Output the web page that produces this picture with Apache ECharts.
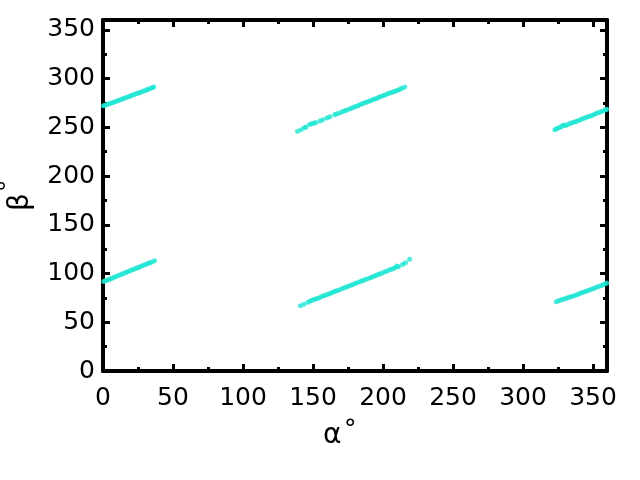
<!DOCTYPE html>
<html><head><meta charset="utf-8">
<script src="https://cdn.jsdelivr.net/npm/echarts@6/dist/echarts.min.js"></script>
<style>html,body{margin:0;padding:0;background:#fff}#c{width:640px;height:480px}</style>
</head><body><div id="c"></div>
<script>
const xTicks = [0, 50, 100, 150, 200, 250, 300, 350];
const yTicks = [0, 50, 100, 150, 200, 250, 300, 350];
const xTitle = 'α';
const yTitle = 'β';
const degree = '°';

const lowerLeft = [[0.5,91.8],[1.5,92.5],[2.8,93.0],[4.0,93.6],[5.2,94.5],[6.5,95.1],[8.0,96.2],[9.3,96.8],[11.0,97.9],[12.6,98.7],[14.0,99.8],[15.5,100.5],[17.0,101.6],[18.4,102.2],[19.8,103.1],[21.0,103.9],[22.5,104.6],[24.0,105.6],[25.3,106.2],[26.8,107.1],[28.0,107.9],[29.5,108.6],[31.0,109.5],[32.3,110.4],[33.5,111.0],[35.0,111.8],[36.8,113.0]];
const upperLeft = [[0.3,272.0],[1.2,272.4],[2.5,273.0],[3.8,273.8],[5.0,274.3],[6.4,275.1],[7.8,275.6],[9.0,276.5],[10.5,277.2],[12.0,278.0],[13.3,278.8],[14.7,279.4],[16.0,280.3],[17.5,281.0],[19.0,281.6],[20.2,282.5],[21.6,283.0],[23.0,284.0],[24.4,284.5],[25.8,285.4],[27.0,286.0],[28.5,286.9],[30.0,287.5],[31.4,288.6],[32.6,288.9],[34.0,289.9],[35.5,290.8],[36.2,291.2]];
const upperMid = [[139.0,246.0],[141.5,247.5],[143.8,249.5],[145.0,250.2],[147.5,252.8],[149.0,253.5],[150.5,254.0],[152.0,254.8],[155.0,256.5],[157.0,257.8],[160.0,259.5],[162.0,260.8],[165.5,262.8],[167.0,263.8],[169.0,264.6],[171.0,266.0],[172.5,266.8],[174.0,267.5],[176.0,268.8],[177.5,269.5],[179.0,270.5],[180.5,271.3],[182.0,272.1],[183.5,273.0],[185.0,274.0],[186.5,274.8],[188.0,275.6],[189.5,276.5],[191.0,277.3],[192.5,278.2],[194.0,279.0],[195.5,279.6],[197.0,280.8],[198.5,281.5],[200.0,282.3],[201.5,283.2],[203.0,284.0],[204.5,284.9],[206.0,285.7],[207.5,286.5],[209.0,287.3],[210.5,288.0],[212.0,289.0],[213.5,289.9],[215.5,291.4]];
const lowerMid = [[141.0,66.8],[143.5,68.5],[146.5,70.5],[148.0,71.8],[149.5,72.5],[151.0,73.5],[152.5,74.2],[154.0,75.0],[155.5,75.8],[157.0,76.8],[158.5,77.5],[160.0,78.5],[161.5,79.2],[163.0,80.0],[164.5,81.0],[166.0,81.8],[167.5,82.6],[169.0,83.3],[171.0,84.5],[172.5,85.3],[174.0,86.3],[175.5,87.0],[177.0,88.0],[178.5,88.8],[180.0,89.7],[181.5,90.5],[183.5,91.5],[185.0,92.5],[186.5,93.3],[188.0,94.0],[190.0,95.2],[191.5,96.0],[193.0,97.0],[194.5,97.8],[196.0,98.6],[197.5,99.5],[199.0,100.3],[201.0,101.6],[202.5,102.4],[204.5,103.5],[206.0,104.4],[207.5,105.2],[209.0,106.3],[210.0,107.6],[211.0,107.0],[214.0,109.3],[216.0,111.0],[219.0,114.5]];
const upperRight = [[322.8,247.5],[324.0,248.5],[325.5,249.6],[327.0,250.2],[328.0,251.5],[329.5,252.3],[330.5,251.8],[332.0,252.8],[333.5,253.8],[335.0,254.6],[336.5,255.3],[338.0,256.0],[339.5,256.8],[341.0,257.6],[342.5,258.6],[344.0,259.4],[345.5,260.2],[347.0,261.0],[348.5,261.8],[350.0,262.6],[351.5,263.5],[353.0,264.5],[354.5,265.2],[356.0,266.2],[357.5,267.0],[359.0,268.0],[359.8,268.5]];
const lowerRight = [[323.8,71.0],[325.5,72.0],[327.0,72.8],[328.5,73.5],[330.0,74.2],[331.5,75.0],[333.0,75.6],[334.5,76.3],[336.0,77.0],[337.5,77.8],[339.0,78.5],[340.5,79.6],[342.0,80.3],[343.5,81.0],[345.0,81.8],[346.5,82.5],[348.0,83.3],[349.5,84.2],[351.0,85.0],[352.5,85.8],[354.0,86.6],[355.5,87.5],[357.0,88.3],[358.5,89.2],[359.8,90.2]];

const pointColor = '#1ee6d2';
const FONT = 'DejaVu Sans';

function axisCommon(showLabels, labelMargin) {
  return {
    min: 0, max: 360, interval: 50,
    axisLine: { show: true, onZero: false, lineStyle: { color: '#000', width: 4 } },
    axisTick: { show: true, inside: true, length: 7, lineStyle: { color: '#000', width: 3 } },
    minorTick: { show: true, splitNumber: 2, length: 4, lineStyle: { color: '#000', width: 3 } },
    splitLine: { show: false },
    axisLabel: { show: showLabels, color: '#000', fontFamily: FONT, fontSize: 25, margin: labelMargin, showMaxLabel: false }
  };
}

const chart = echarts.init(document.getElementById('c'), null, { renderer: 'canvas' });
const segs = [lowerLeft, upperLeft, upperMid, lowerMid, upperRight, lowerRight];
chart.setOption({
  animation: false,
  backgroundColor: '#fff',
  grid: { left: 103, right: 33, top: 20, bottom: 109, containLabel: false },
  xAxis: [
    Object.assign({ type: 'value', position: 'bottom' }, axisCommon(true, 15)),
    Object.assign({ type: 'value', position: 'top' }, axisCommon(false, 8))
  ],
  yAxis: [
    Object.assign({ type: 'value', position: 'left' }, axisCommon(true, 8)),
    Object.assign({ type: 'value', position: 'right' }, axisCommon(false, 8))
  ],
  series: segs.map(d => ({
    type: 'scatter', xAxisIndex: 0, yAxisIndex: 0, data: d,
    symbol: 'circle', symbolSize: 5, itemStyle: { color: pointColor }, silent: true
  })),
  graphic: [
    { type: 'text', left: 323, top: 422, style: { text: xTitle, font: '28px "DejaVu Sans"', fill: '#000' } },
    { type: 'text', left: 344, top: 418, style: { text: degree, font: '25px "DejaVu Sans"', fill: '#000' } },
    { type: 'text', x: 7, y: 211, rotation: Math.PI / 2, style: { text: yTitle, font: '28px "DejaVu Sans"', fill: '#000' } },
    { type: 'text', x: -3, y: 192, rotation: Math.PI / 2, style: { text: degree, font: '25px "DejaVu Sans"', fill: '#000' } }
  ]
});
</script></body></html>
